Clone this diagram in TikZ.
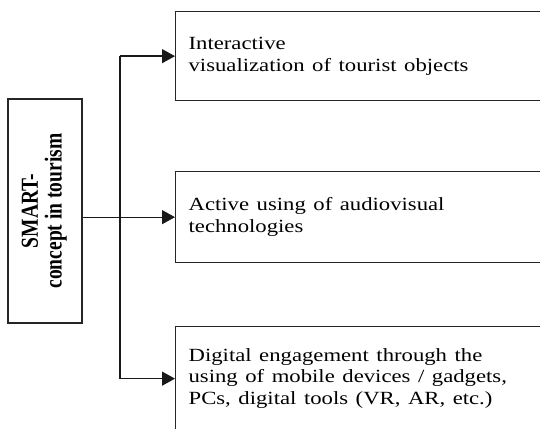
\documentclass[tikz,border=0pt]{standalone}
\usepackage{fontspec}
\setmainfont{Liberation Serif}
\usepackage{graphicx}
\usetikzlibrary{arrows.meta,positioning,calc}
\newcommand{\widetext}[2][l]{\scalebox{1.22}[1]{\begin{tabular}{@{}#1@{}}#2\end{tabular}}}

\begin{document}
\begin{tikzpicture}[x=1pt, y=-1pt,
  root/.style={draw=black!85, line width=1.3pt, minimum width=74pt,
               minimum height=224pt, inner sep=0pt,
               font=\fontsize{19.5}{18}\selectfont\bfseries},
  leaf/.style={draw=black!85, line width=1.3pt, anchor=north west,
               text width=349pt, inner xsep=13pt, inner ysep=0pt,
               align=left, font=\fontsize{18.6}{21.5}\selectfont},
  arr/.style={-{Triangle[length=13pt,width=14pt]}, line width=1.3pt, black!90}
]
\useasboundingbox (0,0) rectangle (540,428);
\clip (0,0) rectangle (540,428);
\node[root] (smart) at (45,211)
  {\scalebox{1.25}[1]{\rotatebox{90}{\begin{tabular}{@{}c@{}}SMART-\\concept in tourism\end{tabular}}}\hspace{12pt}};
\node[leaf, minimum height=89pt] (top) at (175,11)
  {\widetext{Interactive\\visualization of tourist objects}};
\node[leaf, minimum height=91pt] (mid) at (175,171)
  {\widetext{Active using of audiovisual\\technologies}};
\node[leaf, minimum height=104pt] (bot) at (175,326)
  {\widetext{Digital engagement through the\\using of mobile devices / gadgets,\\PCs, digital tools (VR, AR, etc.)}};
\coordinate (trunk) at (120,216);
\draw[arr] (smart.east |- mid.west) -- (mid.west);
\draw[line width=1.3pt, black!90] (trunk |- top.west) -- (trunk |- bot.west);
\draw[arr] (trunk |- top.west) -- (top.west);
\draw[arr] (trunk |- bot.west) -- (bot.west);
\end{tikzpicture}
\end{document}
